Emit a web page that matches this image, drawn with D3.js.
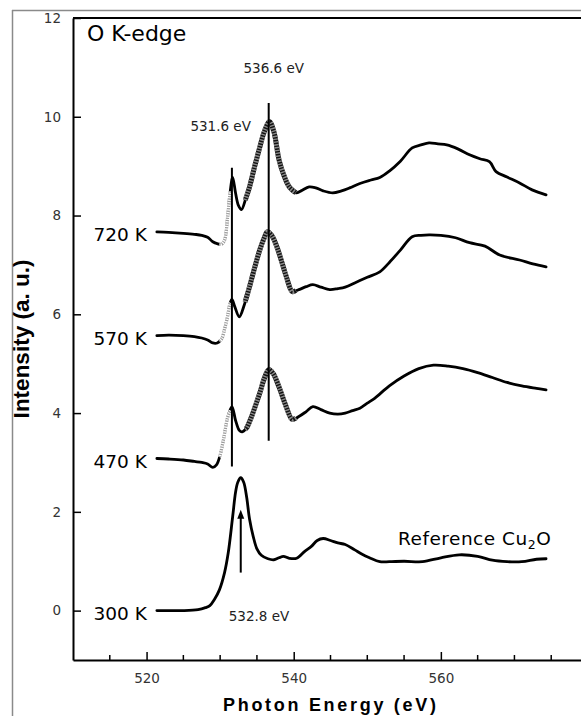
<!DOCTYPE html>
<html><head><meta charset="utf-8">
<script src="https://cdn.jsdelivr.net/npm/d3@7/dist/d3.min.js"></script>
<style>html,body{margin:0;padding:0;background:#fff;}svg{display:block;}</style>
</head><body>
<svg id="c" width="581" height="716"></svg>
<script>
// ---------------- data ----------------
const xTicksMajor = [520, 540, 560];
const xTicksMinor = [515, 525, 530, 535, 545, 550, 555, 565, 570, 575];
const yTicks = [0, 2, 4, 6, 8, 10, 12];

const energy300 = [521.4,523,525,527,528,528.6,529.2,529.9,530.6,531.1,531.7,532.1,532.4,532.8,533.2,533.6,534,534.5,535,535.6,536.5,537.3,538,538.6,539.4,540.4,541.5,542.4,543.2,544,545,546,547,548.3,549.3,550.3,551.7,553,555,557.5,560,562.5,565,567,569,571,573,574.3];
const int300    = [0,0,0,0.02,0.06,0.1,0.22,0.42,0.77,1.17,1.9,2.4,2.6,2.69,2.6,2.3,1.85,1.5,1.25,1.12,1.05,1.03,1.07,1.1,1.06,1.06,1.2,1.3,1.42,1.46,1.42,1.37,1.34,1.23,1.14,1.07,0.99,0.99,1.0,0.99,1.07,1.13,1.1,1.02,0.99,0.99,1.04,1.05];

const energy470 = [521.4,523,525,526.5,527.5,528.3,529,529.5,530,530.5,531,531.6,532.1,532.6,533,533.6,534.2,534.8,535.4,536,536.6,537.2,538,538.8,539.8,540.7,541.7,542.6,543.7,544.9,546,547,548,549,550,551,553,555,557,559,561,563,565,567,569,571,573,574.3];
const int470    = [3.08,3.07,3.05,3.02,3.0,2.97,2.9,2.95,3.15,3.5,3.9,4.13,3.85,3.65,3.62,3.7,3.9,4.15,4.41,4.7,4.88,4.8,4.53,4.2,3.87,3.93,4.03,4.13,4.07,4.0,3.98,4.0,4.05,4.1,4.2,4.3,4.55,4.75,4.9,4.97,4.95,4.9,4.82,4.72,4.62,4.55,4.5,4.47];

const energy570 = [521.4,523,525,526.5,527.5,528.3,529,529.6,530.2,530.6,531,531.3,531.6,532,532.6,533.3,534,534.7,535.4,536,536.4,537,537.7,538.4,539,539.8,540.7,541.7,542.6,543.7,544.9,546,547,548.5,550,551.7,553,554.5,556.1,557.3,558.4,560,562,563.9,566,568,570.7,572.5,574.3];
const int570    = [5.57,5.58,5.57,5.55,5.52,5.48,5.42,5.42,5.5,5.7,5.95,6.2,6.3,6.15,5.95,6.2,6.56,6.95,7.31,7.55,7.67,7.6,7.37,7.05,6.76,6.46,6.5,6.56,6.6,6.55,6.5,6.52,6.55,6.65,6.75,6.86,7.05,7.3,7.57,7.6,7.61,7.6,7.55,7.45,7.38,7.2,7.1,7.02,6.96];

const energy720 = [521.4,523,525,526.5,527.5,528.3,529,529.6,530.2,530.6,531,531.3,531.7,532.1,532.5,532.9,533.5,534,534.7,535.4,536,536.7,537.3,538,538.7,539.4,540.3,541,542.1,543,544,545.3,546.5,547.6,549,550.5,551.7,553,554.5,556.1,557.3,558.4,559.6,560.8,562.3,563.9,565.3,566.6,567.5,569,570.7,572.4,574.3];
const int720    = [7.67,7.66,7.64,7.62,7.6,7.56,7.47,7.43,7.42,7.5,7.95,8.4,8.77,8.45,8.2,8.12,8.35,8.58,9.0,9.39,9.7,9.9,9.7,9.13,8.8,8.58,8.46,8.5,8.58,8.56,8.5,8.46,8.5,8.56,8.65,8.72,8.77,8.9,9.1,9.37,9.43,9.47,9.45,9.43,9.35,9.23,9.15,9.09,8.89,8.78,8.66,8.52,8.42];

const seriesLabels = ["300 K", "470 K", "570 K", "720 K"];

const peakEnergies = [531.6, 536.6];
const peakLineTop = [8.97, 10.28];
const peakLineBottom = [2.92, 3.44];
const peakLabels = ["531.6 eV", "536.6 eV"];

const refEnergy = 532.8;
const refArrowFrom = 0.77, refArrowTo = 2.04;
const refLabel = "532.8 eV";

// regions of the spectra drawn with the grey component overlays
const dotRange = [529.9, 531.4];
const hatchRange = [533.4, 540.3];

// ---------------- drawing ----------------
const svg = d3.select("#c");
const W = 581, H = 716;
const x = d3.scaleLinear().domain([510, 580]).range([73, 588]);
const y = d3.scaleLinear().domain([-1, 12]).range([660, 18]);

// outer frame (grey)
svg.append("line").attr("x1", 12).attr("x2", W).attr("y1", 10.5).attr("y2", 10.5).attr("stroke", "#8a8a8a").attr("stroke-width", 1.5);
svg.append("line").attr("x1", 12.5).attr("x2", 12.5).attr("y1", 10).attr("y2", H).attr("stroke", "#8a8a8a").attr("stroke-width", 1.5);

const tickFont = "DejaVu Sans, sans-serif";

// y axis
const gy = svg.append("g").attr("transform", `translate(${x(510)},0)`)
  .call(d3.axisLeft(y).tickValues(yTicks).tickSize(-8).tickSizeOuter(0).tickPadding(12).tickFormat(d3.format("d")));
gy.select(".domain").attr("stroke", "#000").attr("stroke-width", 2);
gy.selectAll(".tick line").attr("stroke", "#000").attr("stroke-width", 1.5);
gy.selectAll(".tick text").attr("font-family", tickFont).attr("font-size", 13.5).attr("fill", "#333");

// x axis
const gx = svg.append("g").attr("transform", `translate(0,${y(-1)})`)
  .call(d3.axisBottom(x).tickValues(xTicksMajor).tickSize(-8).tickSizeOuter(0).tickPadding(13).tickFormat(d3.format("d")));
gx.select(".domain").attr("stroke", "#000").attr("stroke-width", 2);
gx.selectAll(".tick line").attr("stroke", "#000").attr("stroke-width", 1.5);
gx.selectAll(".tick text").attr("font-family", tickFont).attr("font-size", 13.5).attr("fill", "#333");
svg.append("g").selectAll("line").data(xTicksMinor).join("line")
  .attr("x1", d => x(d)).attr("x2", d => x(d)).attr("y1", y(-1)).attr("y2", y(-1) - 5)
  .attr("stroke", "#000").attr("stroke-width", 1.5);

// top border
svg.append("line").attr("x1", x(510)).attr("x2", x(580)).attr("y1", y(12)).attr("y2", y(12)).attr("stroke", "#000").attr("stroke-width", 2);

// title
svg.append("text").attr("x", 87).attr("y", 41).attr("font-family", tickFont).attr("font-size", 22).attr("fill", "#000").text("O K-edge");

// axis titles
svg.append("text").attr("transform", "translate(29,339) rotate(-90)").attr("text-anchor", "middle")
  .attr("font-family", "Liberation Sans, Arial, sans-serif").attr("font-weight", "bold").attr("font-size", 22.5).attr("fill", "#000")
  .text("Intensity (a. u.)");
svg.append("text").attr("x", 223).attr("y", 711)
  .attr("font-family", "Liberation Sans, Arial, sans-serif").attr("font-weight", "bold").attr("font-size", 18).attr("letter-spacing", 2.7).attr("fill", "#000")
  .text("Photon Energy (eV)");

// spectra
const series = [
  {E: energy300, I: int300, label: seriesLabels[0], overlay: false},
  {E: energy470, I: int470, label: seriesLabels[1], overlay: true},
  {E: energy570, I: int570, label: seriesLabels[2], overlay: true},
  {E: energy720, I: int720, label: seriesLabels[3], overlay: true}
];
const line = d3.line().x(d => x(d[0])).y(d => y(d[1])).curve(d3.curveCatmullRom.alpha(0.5));

function clip(pts, lo, hi) {
  const interp = (a, b, e) => [e, a[1] + (b[1] - a[1]) * (e - a[0]) / (b[0] - a[0])];
  const out = [];
  for (let i = 0; i < pts.length; i++) {
    const p = pts[i];
    if (i > 0) {
      const q = pts[i - 1];
      if (q[0] < lo && p[0] > lo) out.push(interp(q, p, lo));
    }
    if (p[0] >= lo && p[0] <= hi) out.push(p);
    if (i > 0) {
      const q = pts[i - 1];
      if (q[0] < hi && p[0] > hi) out.push(interp(q, p, hi));
    }
  }
  return out;
}

series.forEach(s => {
  const pts = s.E.map((e, i) => [e, s.I[i]]);
  svg.append("path").attr("d", line(pts)).attr("fill", "none").attr("stroke", "#000")
    .attr("stroke-width", 2.8).attr("stroke-linejoin", "round").attr("stroke-linecap", "round");
  if (s.overlay) {
    const dp = clip(pts, dotRange[0], dotRange[1]);
    svg.append("path").attr("d", line(dp)).attr("fill", "none").attr("stroke", "#fff").attr("stroke-width", 3.4);
    svg.append("path").attr("d", line(dp)).attr("fill", "none").attr("stroke", "#9a9a9a").attr("stroke-width", 3.2).attr("stroke-dasharray", "1.2 1.2");
    const hp = clip(pts, hatchRange[0], hatchRange[1]);
    svg.append("path").attr("d", line(hp)).attr("fill", "none").attr("stroke", "#111").attr("stroke-width", 5);
    svg.append("path").attr("d", line(hp)).attr("fill", "none").attr("stroke", "#8a8a8a").attr("stroke-width", 5).attr("stroke-dasharray", "1.4 1.4");
  }
  svg.append("text").attr("x", x(s.E[0]) - 10).attr("y", y(s.I[0]) + 3).attr("dy", "0.36em").attr("text-anchor", "end")
    .attr("font-family", tickFont).attr("font-size", 18.5).attr("fill", "#000").text(s.label);
});

// peak lines
peakEnergies.forEach((e, i) => {
  svg.append("line").attr("x1", x(e)).attr("x2", x(e)).attr("y1", y(peakLineTop[i])).attr("y2", y(peakLineBottom[i]))
    .attr("stroke", "#000").attr("stroke-width", 2);
});
svg.append("text").attr("x", x(peakEnergies[0]) + 19).attr("y", y(peakLineTop[0]) - 41).attr("dy", "0.36em").attr("text-anchor", "end")
  .attr("font-family", tickFont).attr("font-size", 13.5).attr("fill", "#222").text(peakLabels[0]);
svg.append("text").attr("x", x(peakEnergies[1]) + 5).attr("y", y(peakLineTop[1]) - 35).attr("dy", "0.36em").attr("text-anchor", "middle")
  .attr("font-family", tickFont).attr("font-size", 13.5).attr("fill", "#222").text(peakLabels[1]);

// reference arrow
const ax = x(refEnergy);
svg.append("line").attr("x1", ax).attr("x2", ax).attr("y1", y(refArrowFrom)).attr("y2", y(refArrowTo) + 6)
  .attr("stroke", "#000").attr("stroke-width", 2);
svg.append("path").attr("d", `M${ax},${y(refArrowTo)} L${ax - 3.5},${y(refArrowTo) + 9} L${ax + 3.5},${y(refArrowTo) + 9} Z`).attr("fill", "#000");
svg.append("text").attr("x", ax - 12).attr("y", 621).attr("font-family", tickFont).attr("font-size", 13.5).attr("fill", "#222").text(refLabel);

// Reference Cu2O label
const ref = svg.append("text").attr("x", 398).attr("y", 545).attr("font-family", tickFont).attr("font-size", 18.5).attr("letter-spacing", 0.5).attr("fill", "#000");
ref.append("tspan").text("Reference Cu");
ref.append("tspan").attr("font-size", 12.5).attr("dy", 4).text("2");
ref.append("tspan").attr("dy", -4).text("O");
</script>
</body></html>
